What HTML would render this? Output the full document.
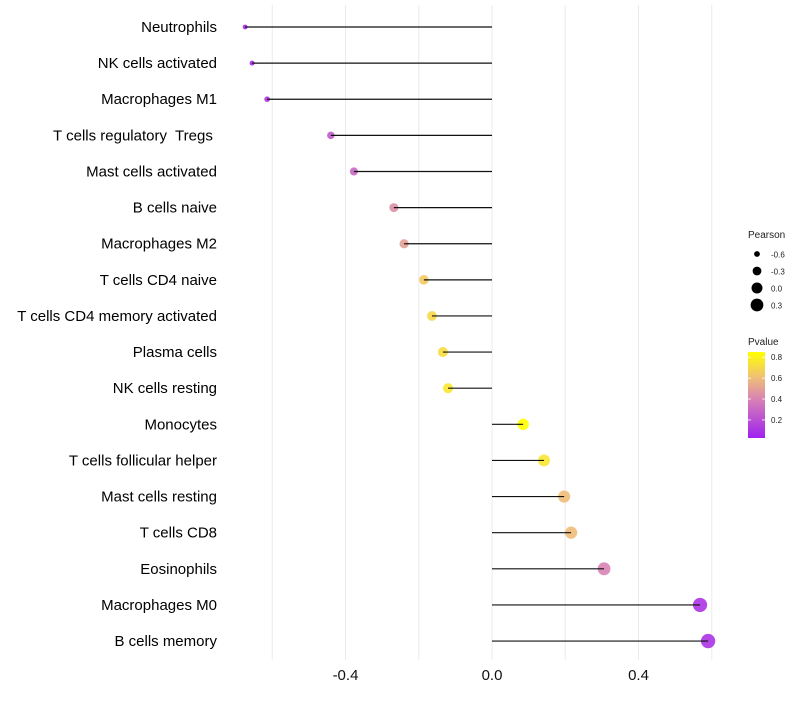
<!DOCTYPE html>
<html><head><meta charset="utf-8"><style>
body{margin:0;background:#fff;font-family:"Liberation Sans",sans-serif}
svg text{font-family:"Liberation Sans",sans-serif;white-space:pre}
</style></head><body>
<svg id="c" width="800" height="700" xmlns="http://www.w3.org/2000/svg"></svg>
<script>
const categories=["Neutrophils","NK cells activated","Macrophages M1","T cells regulatory  Tregs ","Mast cells activated","B cells naive","Macrophages M2","T cells CD4 naive","T cells CD4 memory activated","Plasma cells","NK cells resting","Monocytes","T cells follicular helper","Mast cells resting","T cells CD8","Eosinophils","Macrophages M0","B cells memory"];
const pearson=[-0.674,-0.655,-0.614,-0.44,-0.377,-0.268,-0.24,-0.186,-0.164,-0.134,-0.12,0.085,0.142,0.197,0.216,0.306,0.568,0.59];
const pvalue=[0.05,0.06,0.1,0.25,0.3,0.45,0.5,0.65,0.7,0.72,0.75,0.85,0.75,0.6,0.6,0.4,0.1,0.1];
const xTicks=[-0.4,0.0,0.4];
const xTickLabels=["-0.4","0.0","0.4"];
const xMinor=[-0.6,-0.2,0.2,0.6];
const sizeBreaks=[-0.6,-0.3,0.0,0.3];
const sizeLabels=["-0.6","-0.3","0.0","0.3"];
const colorBreaks=[0.8,0.6,0.4,0.2];
const colorLabels=["0.8","0.6","0.4","0.2"];

const NS="http://www.w3.org/2000/svg";
const svg=document.getElementById('c');
function el(t,a,p){const e=document.createElementNS(NS,t);for(const k in a)e.setAttribute(k,a[k]);(p||svg).appendChild(e);return e;}
const X=v=>492+v*366.25;
const Y=i=>27+i*36.12;
const R=v=>Math.sqrt(Math.max(1,30+36*v));
const pMin=0.027,pMax=0.85;
const stops=[[0,[160,32,240]],[0.45,[215,130,180]],[0.7,[240,190,120]],[1,[255,255,0]]];
function col(p){let t=(p-pMin)/(pMax-pMin);t=Math.max(0,Math.min(1,t));
 for(let i=0;i<stops.length-1;i++){const a=stops[i],b=stops[i+1];if(t<=b[0]){const u=(t-a[0])/(b[0]-a[0]);
 return `rgb(${a[1].map((c,j)=>Math.round(c+(b[1][j]-c)*u)).join(',')})`;}}return 'rgb(255,255,0)';}

xMinor.concat(xTicks).forEach(v=>{const g=el('line',{x1:X(v),x2:X(v),y1:5,y2:660,stroke:'#ebebeb','stroke-width':1});

});

xTicks.forEach((v,i)=>{const t=el('text',{x:X(v),y:680,'text-anchor':'middle','font-size':15,fill:'#111'});t.textContent=xTickLabels[i];

});

categories.forEach((c,i)=>{
 const t=el('text',{x:217,y:Y(i)+5,'text-anchor':'end','font-size':15,fill:'#000'});t.textContent=c;
 
 
 const d=el('circle',{cx:X(pearson[i]),cy:Y(i),r:R(pearson[i]),fill:col(pvalue[i]),opacity:0.9});
 
 
 const l=el('line',{x1:X(0),x2:X(pearson[i]),y1:Y(i),y2:Y(i),stroke:'#111','stroke-width':1.2});
 
 
});

const lt=el('text',{x:748,y:238,'font-size':10,fill:'#222'});lt.textContent='Pearson';


sizeBreaks.forEach((v,i)=>{const y=254+i*17;
 const d=el('circle',{cx:757,cy:y,r:R(v),fill:'#000'});
 
 
 const t=el('text',{x:771,y:y+3.5,'font-size':8,fill:'#222'});t.textContent=sizeLabels[i];
 
 });

const ct=el('text',{x:748,y:345,'font-size':10,fill:'#222'});ct.textContent='Pvalue';


const defs=el('defs',{});const lg=el('linearGradient',{id:'g',x1:0,y1:1,x2:0,y2:0},defs);
stops.forEach(s=>el('stop',{offset:s[0],'stop-color':`rgb(${s[1].join(',')})`},lg));
const bar=el('rect',{x:748,y:352,width:17,height:86,fill:'url(#g)'});


const CY=p=>438-(p-pMin)/(pMax-pMin)*86;
colorBreaks.forEach((v,i)=>{const y=CY(v);
 el('line',{x1:748,x2:751,y1:y,y2:y,stroke:'#fff','stroke-width':0.8});
 el('line',{x1:762,x2:765,y1:y,y2:y,stroke:'#fff','stroke-width':0.8});
 const t=el('text',{x:771,y:y+3,'font-size':8,fill:'#222'});t.textContent=colorLabels[i];
 
 });
</script>
</body></html>
